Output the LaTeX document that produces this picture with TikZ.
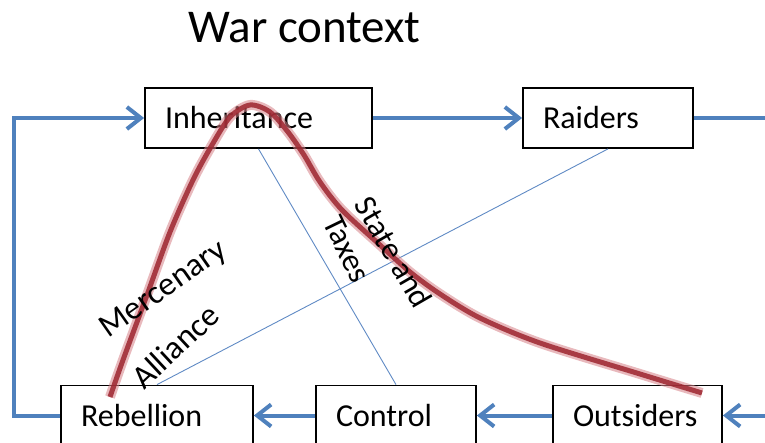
\documentclass[tikz,border=0pt]{standalone}
\usepackage{fontspec}
\setmainfont{Carlito}
\usetikzlibrary{arrows.meta,calc}
\definecolor{flowblue}{RGB}{79,129,189}
\definecolor{thinblue}{RGB}{95,138,196}
\definecolor{redcore}{RGB}{158,38,48}
\definecolor{redglow}{RGB}{214,128,134}
\begin{document}
\begin{tikzpicture}[x=1pt,y=-1pt,
  box/.style={draw=black, line width=1.8pt, minimum height=60pt, inner xsep=20pt, inner ysep=0pt,
    align=left, font=\fontsize{32}{38}\selectfont, text height=21pt, text depth=0pt},
  lab/.style={font=\fontsize{33}{39}\selectfont, inner sep=0pt},
  flow/.style={draw=flowblue, line width=4pt, -{Straight Barb[length=14pt,width=22pt]}},
  flowplain/.style={draw=flowblue, line width=4pt},
  thinline/.style={draw=thinblue, line width=0.9pt}]
\useasboundingbox (0,0) rectangle (765,443);

% title
\node[font=\fontsize{47}{56}\selectfont, anchor=base, inner sep=0pt] (title) at (304.5,43) {War context};

% boxes
\node[box, minimum width=227pt, text width=187pt] (inh) at (258.5,118) {Inheritance};
\node[box, minimum width=170pt, text width=130pt] (rai) at (608,118) {Raiders};
\node[box, minimum width=192pt, text width=152pt] (reb) at (157,415.5) {Rebellion};
\node[box, minimum width=160pt, text width=120pt] (ctrl) at (396,415.5) {Control};
\node[box, minimum width=169pt, text width=129pt] (outs) at (637.5,415.5) {Outsiders};

% thin lines
\draw[thinline] (inh.south) -- (ctrl.north);
\draw[thinline] (rai.south) -- (reb.north);

% flow arrows
\coordinate (lx) at (14,0);
\coordinate (rtop) at (766,118);
\coordinate (rbot) at (766,415.5);
\draw[flow] (reb.west) -- (reb.west -| lx) |- (inh.west);
\draw[flow] (inh.east) -- (rai.west);
\draw[flowplain] (rai.east) -- (rtop);
\draw[flow] (rbot) -- (outs.east);
\draw[flow] (outs.west) -- (ctrl.east);
\draw[flow] (ctrl.west) -- (reb.east);

% red curve
\draw[redglow, line width=10pt, opacity=0.55] plot[smooth, tension=0.5] coordinates {
 (110,397) (123,360) (147,295) (170,232) (193,180) (212,145) (230,117) (250,105) (270,112)
 (288,132) (304,155) (320,182) (342,210) (380,245) (410,272) (440,294) (480,318) (540,343)
 (640,374) (702,393)};
\draw[redcore, line width=5pt, opacity=0.85] plot[smooth, tension=0.5] coordinates {
 (110,397) (123,360) (147,295) (170,232) (193,180) (212,145) (230,117) (250,105) (270,112)
 (288,132) (304,155) (320,182) (342,210) (380,245) (410,272) (440,294) (480,318) (540,343)
 (640,374) (702,393)};

% labels
\node[lab, rotate=35] (merc) at (164,290) {Mercenary};
\node[lab, rotate=43] (alli) at (175,346) {Alliance};
\node[lab, rotate=-60, font=\fontsize{32}{38}\selectfont] (state) at (394,252) {State and};
\node[lab, rotate=-64, font=\fontsize{32}{38}\selectfont] (tax) at (347,249) {Taxes};
\end{tikzpicture}
\end{document}
